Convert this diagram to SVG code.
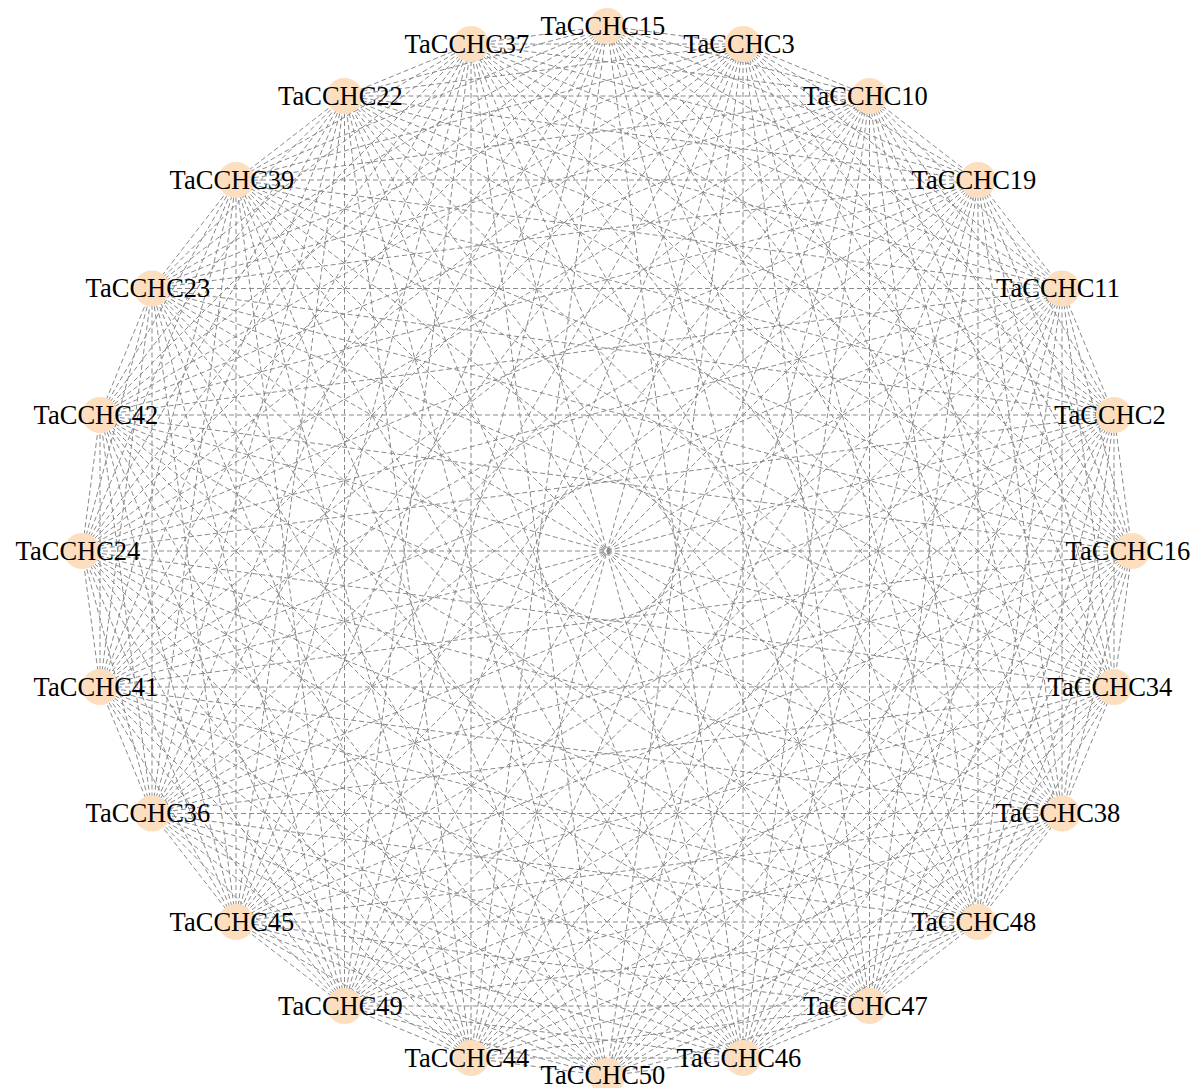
<svg xmlns="http://www.w3.org/2000/svg" width="1202" height="1088" viewBox="0 0 1202 1088">
<style>
#edges path{fill:none;stroke:#8a8a8a;stroke-width:1;stroke-dasharray:5 3}
.node circle{fill:#fddfbf}
.node text{font-family:"Liberation Serif","Times New Roman",serif;font-size:26.5px;fill:#000;text-anchor:middle}
</style>
<rect width="1202" height="1088" fill="#fff"/>
<g id="edges">
<path d="M607 26L743 44"/><path d="M607 26L869.5 96"/><path d="M607 26L978 180"/><path d="M607 26L1062 288.5"/><path d="M607 26L1114 415"/><path d="M607 26L1132 551"/><path d="M607 26L1114 687"/><path d="M607 26L1062 813.5"/><path d="M607 26L978 922"/><path d="M607 26L869.5 1006"/><path d="M607 26L743 1058"/><path d="M607 26L471 1058"/><path d="M607 26L344.5 1006"/><path d="M607 26L236 922"/><path d="M607 26L152 813.5"/><path d="M607 26L100 687"/><path d="M607 26L82 551"/><path d="M607 26L100 415"/><path d="M607 26L152 288.5"/><path d="M607 26L236 180"/><path d="M607 26L344.5 96"/><path d="M607 26L471 44"/>
<path d="M743 44L869.5 96"/><path d="M743 44L978 180"/><path d="M743 44L1062 288.5"/><path d="M743 44L1114 415"/><path d="M743 44L1132 551"/><path d="M743 44L1114 687"/><path d="M743 44L1062 813.5"/><path d="M743 44L978 922"/><path d="M743 44L869.5 1006"/><path d="M743 44L743 1058"/><path d="M743 44L607 1076"/><path d="M743 44L471 1058"/><path d="M743 44L344.5 1006"/><path d="M743 44L236 922"/><path d="M743 44L152 813.5"/><path d="M743 44L100 687"/><path d="M743 44L82 551"/><path d="M743 44L100 415"/><path d="M743 44L152 288.5"/><path d="M743 44L236 180"/><path d="M743 44L344.5 96"/><path d="M743 44L471 44"/>
<path d="M869.5 96L978 180"/><path d="M869.5 96L1062 288.5"/><path d="M869.5 96L1114 415"/><path d="M869.5 96L1132 551"/><path d="M869.5 96L1114 687"/><path d="M869.5 96L1062 813.5"/><path d="M869.5 96L978 922"/><path d="M869.5 96L869.5 1006"/><path d="M869.5 96L743 1058"/><path d="M869.5 96L607 1076"/><path d="M869.5 96L471 1058"/><path d="M869.5 96L344.5 1006"/><path d="M869.5 96L236 922"/><path d="M869.5 96L152 813.5"/><path d="M869.5 96L100 687"/><path d="M869.5 96L82 551"/><path d="M869.5 96L100 415"/><path d="M869.5 96L152 288.5"/><path d="M869.5 96L236 180"/><path d="M869.5 96L344.5 96"/><path d="M869.5 96L471 44"/>
<path d="M978 180L1062 288.5"/><path d="M978 180L1114 415"/><path d="M978 180L1132 551"/><path d="M978 180L1114 687"/><path d="M978 180L1062 813.5"/><path d="M978 180L978 922"/><path d="M978 180L869.5 1006"/><path d="M978 180L743 1058"/><path d="M978 180L607 1076"/><path d="M978 180L471 1058"/><path d="M978 180L344.5 1006"/><path d="M978 180L236 922"/><path d="M978 180L152 813.5"/><path d="M978 180L100 687"/><path d="M978 180L82 551"/><path d="M978 180L100 415"/><path d="M978 180L152 288.5"/><path d="M978 180L236 180"/><path d="M978 180L344.5 96"/><path d="M978 180L471 44"/>
<path d="M1062 288.5L1114 415"/><path d="M1062 288.5L1132 551"/><path d="M1062 288.5L1114 687"/><path d="M1062 288.5L1062 813.5"/><path d="M1062 288.5L978 922"/><path d="M1062 288.5L869.5 1006"/><path d="M1062 288.5L743 1058"/><path d="M1062 288.5L607 1076"/><path d="M1062 288.5L471 1058"/><path d="M1062 288.5L344.5 1006"/><path d="M1062 288.5L236 922"/><path d="M1062 288.5L152 813.5"/><path d="M1062 288.5L100 687"/><path d="M1062 288.5L82 551"/><path d="M1062 288.5L100 415"/><path d="M1062 288.5L152 288.5"/><path d="M1062 288.5L236 180"/><path d="M1062 288.5L344.5 96"/><path d="M1062 288.5L471 44"/>
<path d="M1114 415L1132 551"/><path d="M1114 415L1114 687"/><path d="M1114 415L1062 813.5"/><path d="M1114 415L978 922"/><path d="M1114 415L869.5 1006"/><path d="M1114 415L743 1058"/><path d="M1114 415L607 1076"/><path d="M1114 415L471 1058"/><path d="M1114 415L344.5 1006"/><path d="M1114 415L236 922"/><path d="M1114 415L152 813.5"/><path d="M1114 415L100 687"/><path d="M1114 415L82 551"/><path d="M1114 415L100 415"/><path d="M1114 415L152 288.5"/><path d="M1114 415L236 180"/><path d="M1114 415L344.5 96"/><path d="M1114 415L471 44"/>
<path d="M1132 551L1114 687"/><path d="M1132 551L1062 813.5"/><path d="M1132 551L978 922"/><path d="M1132 551L869.5 1006"/><path d="M1132 551L743 1058"/><path d="M1132 551L607 1076"/><path d="M1132 551L471 1058"/><path d="M1132 551L344.5 1006"/><path d="M1132 551L236 922"/><path d="M1132 551L152 813.5"/><path d="M1132 551L100 687"/><path d="M1132 551L82 551"/><path d="M1132 551L100 415"/><path d="M1132 551L152 288.5"/><path d="M1132 551L236 180"/><path d="M1132 551L344.5 96"/><path d="M1132 551L471 44"/>
<path d="M1114 687L1062 813.5"/><path d="M1114 687L978 922"/><path d="M1114 687L869.5 1006"/><path d="M1114 687L743 1058"/><path d="M1114 687L607 1076"/><path d="M1114 687L471 1058"/><path d="M1114 687L344.5 1006"/><path d="M1114 687L236 922"/><path d="M1114 687L152 813.5"/><path d="M1114 687L100 687"/><path d="M1114 687L82 551"/><path d="M1114 687L100 415"/><path d="M1114 687L152 288.5"/><path d="M1114 687L236 180"/><path d="M1114 687L344.5 96"/><path d="M1114 687L471 44"/>
<path d="M1062 813.5L978 922"/><path d="M1062 813.5L869.5 1006"/><path d="M1062 813.5L743 1058"/><path d="M1062 813.5L607 1076"/><path d="M1062 813.5L471 1058"/><path d="M1062 813.5L344.5 1006"/><path d="M1062 813.5L236 922"/><path d="M1062 813.5L152 813.5"/><path d="M1062 813.5L100 687"/><path d="M1062 813.5L82 551"/><path d="M1062 813.5L100 415"/><path d="M1062 813.5L152 288.5"/><path d="M1062 813.5L236 180"/><path d="M1062 813.5L344.5 96"/><path d="M1062 813.5L471 44"/>
<path d="M978 922L869.5 1006"/><path d="M978 922L743 1058"/><path d="M978 922L607 1076"/><path d="M978 922L471 1058"/><path d="M978 922L344.5 1006"/><path d="M978 922L236 922"/><path d="M978 922L152 813.5"/><path d="M978 922L100 687"/><path d="M978 922L82 551"/><path d="M978 922L100 415"/><path d="M978 922L152 288.5"/><path d="M978 922L236 180"/><path d="M978 922L344.5 96"/><path d="M978 922L471 44"/>
<path d="M869.5 1006L743 1058"/><path d="M869.5 1006L607 1076"/><path d="M869.5 1006L471 1058"/><path d="M869.5 1006L344.5 1006"/><path d="M869.5 1006L236 922"/><path d="M869.5 1006L152 813.5"/><path d="M869.5 1006L100 687"/><path d="M869.5 1006L82 551"/><path d="M869.5 1006L100 415"/><path d="M869.5 1006L152 288.5"/><path d="M869.5 1006L236 180"/><path d="M869.5 1006L344.5 96"/><path d="M869.5 1006L471 44"/>
<path d="M743 1058L607 1076"/><path d="M743 1058L471 1058"/><path d="M743 1058L344.5 1006"/><path d="M743 1058L236 922"/><path d="M743 1058L152 813.5"/><path d="M743 1058L100 687"/><path d="M743 1058L82 551"/><path d="M743 1058L100 415"/><path d="M743 1058L152 288.5"/><path d="M743 1058L236 180"/><path d="M743 1058L344.5 96"/><path d="M743 1058L471 44"/>
<path d="M607 1076L471 1058"/><path d="M607 1076L344.5 1006"/><path d="M607 1076L236 922"/><path d="M607 1076L152 813.5"/><path d="M607 1076L100 687"/><path d="M607 1076L82 551"/><path d="M607 1076L100 415"/><path d="M607 1076L152 288.5"/><path d="M607 1076L236 180"/><path d="M607 1076L344.5 96"/><path d="M607 1076L471 44"/>
<path d="M471 1058L344.5 1006"/><path d="M471 1058L236 922"/><path d="M471 1058L152 813.5"/><path d="M471 1058L100 687"/><path d="M471 1058L82 551"/><path d="M471 1058L100 415"/><path d="M471 1058L152 288.5"/><path d="M471 1058L236 180"/><path d="M471 1058L344.5 96"/><path d="M471 1058L471 44"/>
<path d="M344.5 1006L236 922"/><path d="M344.5 1006L152 813.5"/><path d="M344.5 1006L100 687"/><path d="M344.5 1006L82 551"/><path d="M344.5 1006L100 415"/><path d="M344.5 1006L152 288.5"/><path d="M344.5 1006L236 180"/><path d="M344.5 1006L344.5 96"/><path d="M344.5 1006L471 44"/>
<path d="M236 922L152 813.5"/><path d="M236 922L100 687"/><path d="M236 922L82 551"/><path d="M236 922L100 415"/><path d="M236 922L152 288.5"/><path d="M236 922L236 180"/><path d="M236 922L344.5 96"/><path d="M236 922L471 44"/>
<path d="M152 813.5L100 687"/><path d="M152 813.5L82 551"/><path d="M152 813.5L100 415"/><path d="M152 813.5L152 288.5"/><path d="M152 813.5L236 180"/><path d="M152 813.5L344.5 96"/><path d="M152 813.5L471 44"/>
<path d="M100 687L82 551"/><path d="M100 687L100 415"/><path d="M100 687L152 288.5"/><path d="M100 687L236 180"/><path d="M100 687L344.5 96"/><path d="M100 687L471 44"/>
<path d="M82 551L100 415"/><path d="M82 551L152 288.5"/><path d="M82 551L236 180"/><path d="M82 551L344.5 96"/><path d="M82 551L471 44"/>
<path d="M100 415L152 288.5"/><path d="M100 415L236 180"/><path d="M100 415L344.5 96"/><path d="M100 415L471 44"/>
<path d="M152 288.5L236 180"/><path d="M152 288.5L344.5 96"/><path d="M152 288.5L471 44"/>
<path d="M236 180L344.5 96"/><path d="M236 180L471 44"/>
<path d="M344.5 96L471 44"/>
</g>
<g id="n-TaCCHC15" class="node"><circle cx="607" cy="26" r="18"/><text x="603" y="34.5">TaCCHC15</text></g>
<g id="n-TaCCHC3" class="node"><circle cx="743" cy="44" r="18"/><text x="739" y="52.5">TaCCHC3</text></g>
<g id="n-TaCCHC10" class="node"><circle cx="869.5" cy="96" r="18"/><text x="865.5" y="104.5">TaCCHC10</text></g>
<g id="n-TaCCHC19" class="node"><circle cx="978" cy="180" r="18"/><text x="974" y="188.5">TaCCHC19</text></g>
<g id="n-TaCCHC11" class="node"><circle cx="1062" cy="288.5" r="18"/><text x="1058" y="297">TaCCHC11</text></g>
<g id="n-TaCCHC2" class="node"><circle cx="1114" cy="415" r="18"/><text x="1110" y="423.5">TaCCHC2</text></g>
<g id="n-TaCCHC16" class="node"><circle cx="1132" cy="551" r="18"/><text x="1128" y="559.5">TaCCHC16</text></g>
<g id="n-TaCCHC34" class="node"><circle cx="1114" cy="687" r="18"/><text x="1110" y="695.5">TaCCHC34</text></g>
<g id="n-TaCCHC38" class="node"><circle cx="1062" cy="813.5" r="18"/><text x="1058" y="822">TaCCHC38</text></g>
<g id="n-TaCCHC48" class="node"><circle cx="978" cy="922" r="18"/><text x="974" y="930.5">TaCCHC48</text></g>
<g id="n-TaCCHC47" class="node"><circle cx="869.5" cy="1006" r="18"/><text x="865.5" y="1014.5">TaCCHC47</text></g>
<g id="n-TaCCHC46" class="node"><circle cx="743" cy="1058" r="18"/><text x="739" y="1066.5">TaCCHC46</text></g>
<g id="n-TaCCHC50" class="node"><circle cx="607" cy="1076" r="18"/><text x="603" y="1083.5">TaCCHC50</text></g>
<g id="n-TaCCHC44" class="node"><circle cx="471" cy="1058" r="18"/><text x="467" y="1066.5">TaCCHC44</text></g>
<g id="n-TaCCHC49" class="node"><circle cx="344.5" cy="1006" r="18"/><text x="340.5" y="1014.5">TaCCHC49</text></g>
<g id="n-TaCCHC45" class="node"><circle cx="236" cy="922" r="18"/><text x="232" y="930.5">TaCCHC45</text></g>
<g id="n-TaCCHC36" class="node"><circle cx="152" cy="813.5" r="18"/><text x="148" y="822">TaCCHC36</text></g>
<g id="n-TaCCHC41" class="node"><circle cx="100" cy="687" r="18"/><text x="96" y="695.5">TaCCHC41</text></g>
<g id="n-TaCCHC24" class="node"><circle cx="82" cy="551" r="18"/><text x="78" y="559.5">TaCCHC24</text></g>
<g id="n-TaCCHC42" class="node"><circle cx="100" cy="415" r="18"/><text x="96" y="423.5">TaCCHC42</text></g>
<g id="n-TaCCHC23" class="node"><circle cx="152" cy="288.5" r="18"/><text x="148" y="297">TaCCHC23</text></g>
<g id="n-TaCCHC39" class="node"><circle cx="236" cy="180" r="18"/><text x="232" y="188.5">TaCCHC39</text></g>
<g id="n-TaCCHC22" class="node"><circle cx="344.5" cy="96" r="18"/><text x="340.5" y="104.5">TaCCHC22</text></g>
<g id="n-TaCCHC37" class="node"><circle cx="471" cy="44" r="18"/><text x="467" y="52.5">TaCCHC37</text></g>
</svg>
